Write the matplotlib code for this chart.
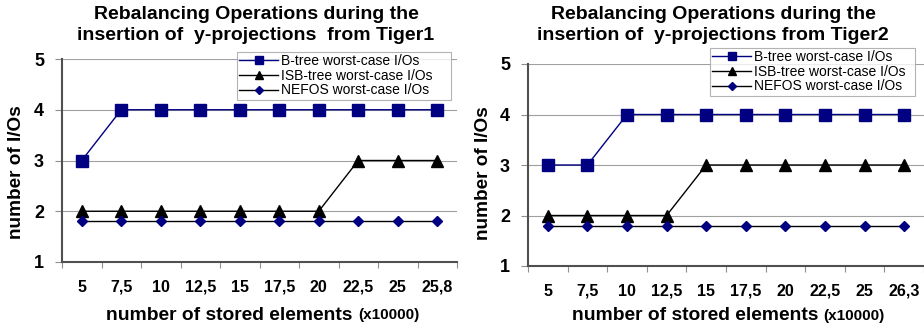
import matplotlib
matplotlib.use('Agg')
from matplotlib import pyplot as plt
import numpy as np

plt.rcParams['font.family'] = ['Liberation Sans', 'DejaVu Sans']

labels1 = ['5', '7,5', '10', '12,5', '15', '17,5', '20', '22,5', '25', '25,8']
btree1 = [3, 4, 4, 4, 4, 4, 4, 4, 4, 4]
isb1 = [2, 2, 2, 2, 2, 2, 2, 3, 3, 3]
nefos1 = [1.8, 1.8, 1.8, 1.8, 1.8, 1.8, 1.8, 1.8, 1.8, 1.8]

labels2 = ['5', '7,5', '10', '12,5', '15', '17,5', '20', '22,5', '25', '26,3']
btree2 = [3, 3, 4, 4, 4, 4, 4, 4, 4, 4]
isb2 = [2, 2, 2, 2, 3, 3, 3, 3, 3, 3]
nefos2 = [1.8, 1.8, 1.8, 1.8, 1.8, 1.8, 1.8, 1.8, 1.8, 1.8]

NAVY = '#000080'
W, H = 924, 331


def panel(fig, rect, labels, btree, isb, nefos, title, tcx, yl, legrect, xtl_y, xl):
    x0, y0, x1, y1 = rect
    ax = fig.add_axes([x0 / W, 1 - y1 / H, (x1 - x0) / W, (y1 - y0) / H])
    x = np.arange(len(labels))
    ax.plot(x, btree, color=NAVY, lw=1.0, marker='s', ms=8.5, mfc=NAVY, mec=NAVY,
            label='B-tree worst-case I/Os', zorder=3)
    ax.plot(x, isb, color='black', lw=1.0, marker='^', ms=8, mfc='black', mec='black',
            label='ISB-tree worst-case I/Os', zorder=3)
    ax.plot(x, nefos, color='black', lw=1.0, marker='D', ms=5.5, mfc=NAVY, mec=NAVY,
            label='NEFOS worst-case I/Os', zorder=3)
    ax.set_xlim(-0.5, len(labels) - 0.5)
    ax.set_ylim(1, 5)
    ax.set_yticks([1, 2, 3, 4, 5])
    ax.set_yticklabels(['1', '2', '3', '4', '5'], fontsize=13, fontweight='bold')
    ax.yaxis.grid(True, color='#a0a0a0', lw=0.8)
    ax.set_axisbelow(True)
    ax.set_xticks(np.arange(-0.5, len(labels), 1.0))
    ax.set_xticklabels([])
    ax.tick_params(axis='x', direction='out', length=4, color='#909090')
    ax.tick_params(axis='y', direction='out', length=5, color='#909090', pad=8)
    ty = -(xtl_y - y1) / (y1 - y0)
    for i, lab in enumerate(labels):
        ax.text(i, ty, lab, transform=ax.get_xaxis_transform(), ha='center', va='center',
                fontsize=11.5, fontweight='bold')
    ax.spines['top'].set_visible(False)
    ax.spines['right'].set_visible(False)
    ax.spines['left'].set_color('#505050')
    ax.spines['bottom'].set_color('#505050')
    ax.spines['left'].set_linewidth(1.5)
    ax.spines['bottom'].set_linewidth(1.5)

    fig.text(tcx / W, 1 - 25 / H, title, ha='center', va='center', fontsize=14,
             fontweight='bold', linespacing=1.3)
    fig.text(yl[0] / W, 1 - yl[1] / H, 'number of I/Os', rotation=90,
             ha='center', va='center', fontsize=13.7, fontweight='bold')

    # x label: big bold part + smaller "(x10000)", centred together
    xl_cx, xl_y = xl
    t1 = fig.text(0, 1 - xl_y / H, 'number of stored elements ', ha='left',
                  va='center', fontsize=13.9, fontweight='bold')
    t2 = fig.text(0, 1 - xl_y / H, '(x10000)', ha='left', va='center',
                  fontsize=11, fontweight='bold')
    r = fig.canvas.get_renderer()
    w1 = t1.get_window_extent(r).width
    w2 = t2.get_window_extent(r).width
    start = xl_cx - (w1 + w2) / 2
    t1.set_x(start / W)
    t2.set_x((start + w1) / W)

    lx0, ly0, lx1, ly1 = legrect
    leg = ax.legend(loc='upper left', bbox_to_anchor=(lx0 / W, 1 - ly1 / H, (lx1 - lx0) / W, (ly1 - ly0) / H),
                    bbox_transform=fig.transFigure, mode='expand', fontsize=10,
                    frameon=True, fancybox=False, borderpad=0.15, labelspacing=0.05,
                    handlelength=2.8, handletextpad=0.2, borderaxespad=0, markerscale=0.75)
    leg.get_frame().set_edgecolor('#a0a0a0')
    leg.get_frame().set_linewidth(0.8)
    return ax


fig = plt.figure(figsize=(W / 100, H / 100), dpi=100)
panel(fig, (62, 59, 457, 262), labels1, btree1, isb1, nefos1,
      'Rebalancing Operations during the\ninsertion of  y-projections  from Tiger1',
      256, (17, 172), (237, 52, 451, 97), 287, (263, 315))
panel(fig, (528, 64, 924, 266), labels2, btree2, isb2, nefos2,
      'Rebalancing Operations during the\ninsertion of  y-projections from Tiger2',
      713, (484, 173), (710, 48, 915, 92), 291, (728, 316))
fig.savefig('out.png', dpi=100)
